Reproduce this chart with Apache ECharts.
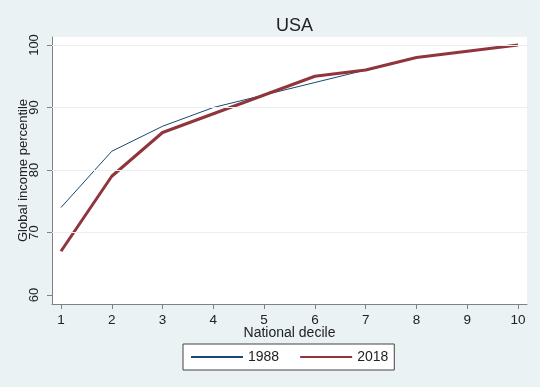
<!DOCTYPE html>
<html><head><meta charset="utf-8">
<script src="https://cdn.jsdelivr.net/npm/echarts@6/dist/echarts.min.js"></script>
<style>html,body{margin:0;padding:0;background:#eaf2f3}#c{width:540px;height:387px}</style>
</head><body><div id="c"></div>
<script>
const deciles = [1,2,3,4,5,6,7,8,9,10];
const y1988 = [74,83,87,90,92,94,96,98,99,100];
const y2018 = [67,79,86,89,92,95,96,98,99,100];
const yTicks = [60,70,80,90,100];
const gridValues = [70,80,90,100];
const F = '"Liberation Sans", Arial, sans-serif';
const chart = echarts.init(document.getElementById('c'), null, {renderer:'canvas'});
chart.setOption({
  backgroundColor: '#eaf2f3',
  animation: false,
  title: {text: 'USA', left: 289.5, textAlign: 'center', top: 12,
    textStyle: {fontFamily: F, fontSize: 18, fontWeight: 'normal', color: '#222'}},
  grid: {left: 52, right: 13, top: 37, bottom: 83, show: true, backgroundColor: '#fff', borderWidth: 0},
  xAxis: {type: 'value', min: 0.823, max: 10.177,
    name: 'National decile', nameLocation: 'middle', nameGap: 22, nameMoveOverlap: false,
    nameTextStyle: {fontFamily: F, fontSize: 14, color: '#222'},
    axisLine: {show: true, lineStyle: {color: '#808080', width: 1}},
    axisTick: {show: true, customValues: deciles, length: 5, lineStyle: {color: '#808080'}},
    axisLabel: {customValues: deciles, fontFamily: F, fontSize: 13.5, color: '#222', margin: 9},
    splitLine: {show: false}},
  yAxis: {type: 'value', min: 58.56, max: 101.28,
    name: 'Global income percentile', nameLocation: 'middle', nameGap: 22, nameMoveOverlap: false,
    nameTextStyle: {fontFamily: F, fontSize: 13, color: '#222'},
    axisLine: {show: true, lineStyle: {color: '#808080', width: 1}},
    axisTick: {show: true, customValues: yTicks, length: 5, lineStyle: {color: '#808080'}},
    axisLabel: {customValues: yTicks, rotate: 90, fontFamily: F, fontSize: 13, color: '#222', margin: 11},
    splitLine: {show: false}},
  legend: {top: 344, left: 183, orient: 'horizontal',
    backgroundColor: '#fff', borderColor: '#444', borderWidth: 1, borderRadius: 0,
    padding: [6, 6, 6, 7], itemWidth: 52, itemHeight: 14, itemGap: 20,
    itemStyle: {color: 'rgba(0,0,0,0)', borderColor: 'rgba(0,0,0,0)', borderWidth: 0},
    textStyle: {fontFamily: F, fontSize: 14, color: '#222'},
    data: ['1988', '2018']},
  series: [
    {name: '1988', type: 'line', data: deciles.map((d,i)=>[d, y1988[i]]),
      showSymbol: false, symbol: 'none', lineStyle: {color: '#1a476f', width: 1}, itemStyle: {color: '#1a476f'},
      markLine: {silent: true, symbol: 'none', label: {show: false},
        lineStyle: {color: '#eceff0', width: 1, type: 'solid'},
        data: gridValues.map(v=>({yAxis: v}))}, z: 2},
    {name: '2018', type: 'line', data: deciles.map((d,i)=>[d, y2018[i]]),
      showSymbol: false, symbol: 'none', lineStyle: {color: '#90353b', width: 3}, itemStyle: {color: '#90353b'}, z: 3}
  ]
});
</script></body></html>
